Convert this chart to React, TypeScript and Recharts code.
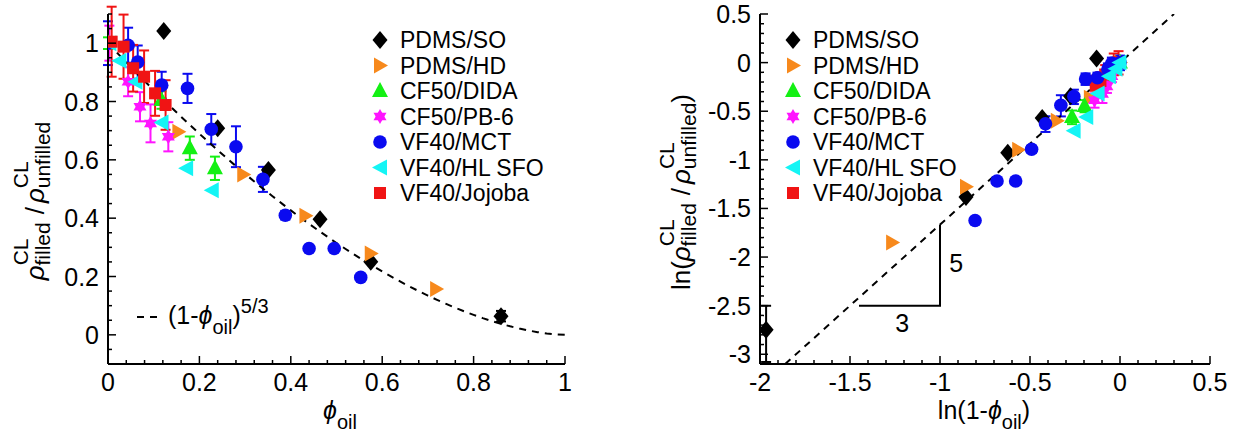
import React from 'react'
import { ScatterChart, Scatter, XAxis, YAxis, ErrorBar } from 'recharts'

const FONT = '"Liberation Sans", Arial, Helvetica, sans-serif'

// values: phi_oil, rho_filled/rho_unfilled, +/- error
const pdmsSoPhi = [0.122, 0.24, 0.351, 0.464, 0.575, 0.86]
const pdmsSoRho = [1.042, 0.708, 0.565, 0.396, 0.251, 0.064]
const pdmsSoErr = [0, 0, 0, 0, 0, 0.018]

const pdmsHdPhi = [0, 0.154, 0.296, 0.432, 0.575, 0.718]
const pdmsHdRho = [1.0, 0.696, 0.55, 0.408, 0.279, 0.157]
const pdmsHdErr = [0, 0, 0, 0, 0, 0]

const didaPhi = [0, 0.117, 0.179, 0.234]
const didaRho = [1.0, 0.805, 0.64, 0.571]
const didaErr = [0.02, 0.03, 0.04, 0.04]

const pb6Phi = [0.003, 0.044, 0.07, 0.093, 0.132]
const pb6Rho = [1.0, 0.868, 0.782, 0.725, 0.679]
const pb6Err = [0.06, 0.05, 0.05, 0.065, 0.05]

const mctPhi = [0, 0.044, 0.065, 0.1175, 0.174, 0.226, 0.28, 0.339, 0.388, 0.44, 0.495, 0.553]
const mctRho = [1.0, 0.993, 0.935, 0.856, 0.845, 0.705, 0.645, 0.533, 0.41, 0.296, 0.296, 0.197]
const mctErr = [0.075, 0.06, 0.057, 0.046, 0.05, 0.052, 0.07, 0.043, 0.015, 0, 0, 0]

const sfoPhi = [0.003, 0.025, 0.06, 0.117, 0.171, 0.227]
const sfoRho = [1.0, 0.94, 0.868, 0.728, 0.571, 0.496]
const sfoErr = [0, 0, 0, 0, 0, 0]

const jojobaPhi = [0.008, 0.034, 0.055, 0.079, 0.103, 0.126]
const jojobaRho = [1.005, 0.988, 0.914, 0.885, 0.828, 0.788]
const jojobaErr = [0.12, 0.11, 0.08, 0.09, 0.077, 0.085]

// tick labels
const leftXMajor = [0, 0.2, 0.4, 0.6, 0.8, 1]
const leftYMajor = [0, 0.2, 0.4, 0.6, 0.8, 1]
const rightXMajor = [-2, -1.5, -1, -0.5, 0, 0.5]
const rightYMajor = [-3, -2.5, -2, -1.5, -1, -0.5, 0, 0.5]

// model lines: (1-phi)^(5/3) and its log form, slope 5/3
const curvePhi = Array.from({ length: 51 }, (_, i) => i / 50)
const slopeLineX = [-1.86, 0.3]
const slopeTriX = [-1.45, -1, -1]
const slopeTriY = [-2.5, -2.5, -1.667]

// draw order in the log panel (red sits under the blue/cyan cluster there)
const rightOrder = [0, 1, 2, 3, 6, 4, 5]

const steps = (a: number, b: number, s: number) =>
  Array.from({ length: Math.round((b - a) / s) + 1 }, (_, i) => +(a + i * s).toFixed(4))

type Kind = 'diamond' | 'right' | 'up' | 'star' | 'circle' | 'left' | 'square'

const series: { name: string; kind: Kind; color: string; phi: number[]; rho: number[]; err: number[] }[] = [
  { name: 'PDMS/SO', kind: 'diamond', color: '#000000', phi: pdmsSoPhi, rho: pdmsSoRho, err: pdmsSoErr },
  { name: 'PDMS/HD', kind: 'right', color: '#f7891c', phi: pdmsHdPhi, rho: pdmsHdRho, err: pdmsHdErr },
  { name: 'CF50/DIDA', kind: 'up', color: '#14f014', phi: didaPhi, rho: didaRho, err: didaErr },
  { name: 'CF50/PB-6', kind: 'star', color: '#ff14ff', phi: pb6Phi, rho: pb6Rho, err: pb6Err },
  { name: 'VF40/MCT', kind: 'circle', color: '#0a0af0', phi: mctPhi, rho: mctRho, err: mctErr },
  { name: 'VF40/HL SFO', kind: 'left', color: '#14f5f5', phi: sfoPhi, rho: sfoRho, err: sfoErr },
  { name: 'VF40/Jojoba', kind: 'square', color: '#f01414', phi: jojobaPhi, rho: jojobaRho, err: jojobaErr },
]

function Marker({ kind, color, cx, cy }: { kind: Kind; color: string; cx: number; cy: number }) {
  const pts = (a: number[][]) => a.map(([dx, dy]) => `${cx + dx},${cy + dy}`).join(' ')
  switch (kind) {
    case 'diamond':
      return <polygon points={pts([[0, -9], [7.5, 0], [0, 9], [-7.5, 0]])} fill={color} />
    case 'right':
      return <polygon points={pts([[-6, -8], [8, 0], [-6, 8]])} fill={color} />
    case 'left':
      return <polygon points={pts([[7, -8], [-8, 0], [7, 8]])} fill={color} />
    case 'up':
      return <polygon points={pts([[0, -9], [8, 6], [-8, 6]])} fill={color} />
    case 'star':
      return (
        <g fill={color}>
          <polygon points={pts([[0, -7.5], [6.5, 3.75], [-6.5, 3.75]])} />
          <polygon points={pts([[0, 7.5], [6.5, -3.75], [-6.5, -3.75]])} />
        </g>
      )
    case 'circle':
      return <circle cx={cx} cy={cy} r={6.8} fill={color} />
    default:
      return <rect x={cx - 6} y={cy - 6} width={12} height={12} fill={color} />
  }
}

const noShape = () => <g />

function AxisTick(props: any) {
  const { x = 0, y = 0, payload, side, majors, labels } = props
  const v = payload ? payload.value : 0
  const major = majors.some((m: number) => Math.abs(m - v) < 1e-6)
  const len = major ? 8 : 4
  let l = [x, y, x, y - len]
  if (side === 'top') l = [x, y, x, y + len]
  if (side === 'left') l = [x, y, x + len, y]
  if (side === 'right') l = [x, y, x - len, y]
  return (
    <g>
      <line x1={l[0]} y1={l[1]} x2={l[2]} y2={l[3]} stroke="#000" strokeWidth={1.5} />
      {labels && major && side === 'bottom' && (
        <text x={x} y={y + 27} textAnchor="middle" fontSize={25} fill="#000">
          {String(v)}
        </text>
      )}
      {labels && major && side === 'left' && (
        <text x={x - 9} y={y} dy="0.36em" textAnchor="end" fontSize={25} fill="#000">
          {String(v)}
        </text>
      )}
    </g>
  )
}

const frame = { stroke: '#000', strokeWidth: 2 }

function Axes({ xDom, yDom, xMajor, yMajor, xMinor, yMinor, yWidth }: any) {
  return [
    <XAxis
      key="b"
      type="number"
      dataKey="x"
      domain={xDom}
      ticks={xMinor}
      interval={0}
      allowDataOverflow
      height={75}
      axisLine={frame}
      tickLine={false}
      tickSize={0}
      tickMargin={0}
      tick={(p: any) => <AxisTick {...p} side="bottom" majors={xMajor} labels />}
    />,
    <XAxis
      key="t"
      xAxisId="top"
      orientation="top"
      type="number"
      dataKey="x"
      domain={xDom}
      ticks={xMinor}
      interval={0}
      allowDataOverflow
      height={0}
      axisLine={frame}
      tickLine={false}
      tickSize={0}
      tickMargin={0}
      tick={(p: any) => <AxisTick {...p} side="top" majors={xMajor} />}
    />,
    <YAxis
      key="l"
      type="number"
      dataKey="y"
      domain={yDom}
      ticks={yMinor}
      interval={0}
      allowDataOverflow
      width={yWidth}
      axisLine={frame}
      tickLine={false}
      tickSize={0}
      tickMargin={0}
      tick={(p: any) => <AxisTick {...p} side="left" majors={yMajor} labels />}
    />,
    <YAxis
      key="r"
      yAxisId="right"
      orientation="right"
      type="number"
      dataKey="y"
      domain={yDom}
      ticks={yMinor}
      interval={0}
      allowDataOverflow
      width={0}
      axisLine={frame}
      tickLine={false}
      tickSize={0}
      tickMargin={0}
      tick={(p: any) => <AxisTick {...p} side="right" majors={yMajor} />}
    />,
  ]
}

function LeftChart() {
  const curve = curvePhi.map((p) => ({ x: p, y: Math.pow(1 - p, 5 / 3) }))
  return (
    <ScatterChart width={620} height={439} margin={{ top: 14, right: 55, bottom: 0, left: 0 }}>
      {Axes({
        xDom: [0, 1],
        yDom: [-0.1, 1.1],
        xMajor: leftXMajor,
        yMajor: leftYMajor,
        xMinor: steps(0, 1, 0.04),
        yMinor: steps(-0.1, 1.1, 0.05),
        yWidth: 108,
      })}
      <Scatter
        data={curve}
        line={{ stroke: '#000', strokeWidth: 2, strokeDasharray: '7 6' }}
        lineType="joint"
        shape={noShape}
        isAnimationActive={false}
      />
      {series.map((s) => (
        <Scatter
          key={s.name}
          name={s.name}
          data={s.phi.map((p, i) => ({ x: p, y: s.rho[i], err: s.err[i] }))}
          shape={(p: any) => <Marker kind={s.kind} color={s.color} cx={p.cx} cy={p.cy} />}
          isAnimationActive={false}
        >
          <ErrorBar dataKey="err" direction="y" width={5} stroke={s.color} strokeWidth={2} isAnimationActive={false} />
        </Scatter>
      ))}
    </ScatterChart>
  )
}

function RightChart() {
  const line = slopeLineX.map((x) => ({ x, y: (5 / 3) * x }))
  const tri = slopeTriX.map((x, i) => ({ x, y: slopeTriY[i] }))
  const triText = [
    { x: -0.91, y: -2.06, t: '5' },
    { x: -1.21, y: -2.68, t: '3' },
  ]
  return (
    <ScatterChart width={619} height={439} margin={{ top: 14, right: 29, bottom: 0, left: 0 }}>
      {Axes({
        xDom: [-2, 0.5],
        yDom: [-3.1, 0.5],
        xMajor: rightXMajor,
        yMajor: rightYMajor,
        xMinor: steps(-2, 0.5, 0.1),
        yMinor: steps(-3.1, 0.5, 0.1),
        yWidth: 140,
      })}
      <Scatter
        data={line}
        line={{ stroke: '#000', strokeWidth: 2, strokeDasharray: '7 6' }}
        lineType="joint"
        shape={noShape}
        isAnimationActive={false}
      />
      <Scatter data={tri} line={{ stroke: '#000', strokeWidth: 2 }} lineType="joint" shape={noShape} isAnimationActive={false} />
      <Scatter
        data={triText}
        shape={(p: any) => (
          <text x={p.cx} y={p.cy} dy="0.36em" textAnchor="middle" fontSize={25} fill="#000">
            {p.payload.t}
          </text>
        )}
        isAnimationActive={false}
      />
      {rightOrder.map((k) => {
        const s = series[k]
        return (
          <Scatter
            key={s.name}
            name={s.name}
            data={s.phi.map((p, i) => {
              const r = s.rho[i]
              const e = s.err[i]
              return {
                x: Math.log(1 - p),
                y: Math.log(r),
                err: [Math.log(r) - Math.log(r - e), Math.log(r + e) - Math.log(r)],
              }
            })}
            shape={(p: any) => <Marker kind={s.kind} color={s.color} cx={p.cx} cy={p.cy} />}
            isAnimationActive={false}
          >
            <ErrorBar dataKey="err" direction="y" width={5} stroke={s.color} strokeWidth={2} isAnimationActive={false} />
          </Scatter>
        )
      })}
    </ScatterChart>
  )
}

function RhoTitle({ ln }: { ln?: boolean }) {
  return (
    <text textAnchor="middle" fontSize={26} fill="#000">
      {ln && <tspan>ln(</tspan>}
      <tspan fontStyle="italic">ρ</tspan>
      <tspan fontSize={21} dy={-16}>CL</tspan>
      <tspan fontSize={21} dx={-27} dy={22}>filled</tspan>
      <tspan dx={8} dy={-6}>/</tspan>
      <tspan fontStyle="italic" dx={4}>ρ</tspan>
      <tspan fontSize={21} dy={-16}>CL</tspan>
      <tspan fontSize={21} dx={-27} dy={22}>unfilled</tspan>
      {ln && <tspan dy={-6}>)</tspan>}
    </text>
  )
}

function Legend({ left }: { left: number }) {
  return (
    <g>
      {series.map((s, i) => {
        const cy = 40 + i * 25.5
        return (
          <g key={s.name}>
            <Marker kind={s.kind} color={s.color} cx={left} cy={cy} />
            <text x={left + 20} y={cy + 8} fontSize={23} fill="#000">
              {s.name}
            </text>
          </g>
        )
      })}
    </g>
  )
}

function Overlay() {
  return (
    <svg width={1239} height={439} style={{ position: 'absolute', left: 0, top: 0, pointerEvents: 'none' }}>
      <g transform="translate(44,201) rotate(-90)">
        <RhoTitle />
      </g>
      <g transform="translate(690,192) rotate(-90)">
        <RhoTitle ln />
      </g>
      <text x={340} y={419} textAnchor="middle" fontSize={25} fill="#000">
        <tspan fontStyle="italic">ϕ</tspan>
        <tspan fontSize={20} dy={10}>oil</tspan>
      </text>
      <text x={984} y={419} textAnchor="middle" fontSize={25} fill="#000">
        <tspan>ln(1-</tspan>
        <tspan fontStyle="italic">ϕ</tspan>
        <tspan fontSize={20} dy={10}>oil</tspan>
        <tspan dy={-10}>)</tspan>
      </text>
      <Legend left={380} />
      <Legend left={793} />
      <line x1={137} y1={317} x2={158} y2={317} stroke="#000" strokeWidth={2} strokeDasharray="7 6" />
      <text x={168} y={324} fontSize={25} fill="#000">
        <tspan>(1-</tspan>
        <tspan fontStyle="italic">ϕ</tspan>
        <tspan fontSize={20} dy={10}>oil</tspan>
        <tspan dy={-10}>)</tspan>
        <tspan fontSize={20} dy={-11}>5/3</tspan>
      </text>
    </svg>
  )
}

export default function App() {
  return (
    <div
      style={{
        position: 'absolute',
        left: 0,
        top: 0,
        width: 1239,
        height: 439,
        background: '#fff',
        fontFamily: FONT,
      }}
    >
      <div style={{ position: 'absolute', left: 0, top: 0 }}>
        <LeftChart />
      </div>
      <div style={{ position: 'absolute', left: 620, top: 0 }}>
        <RightChart />
      </div>
      <Overlay />
    </div>
  )
}
